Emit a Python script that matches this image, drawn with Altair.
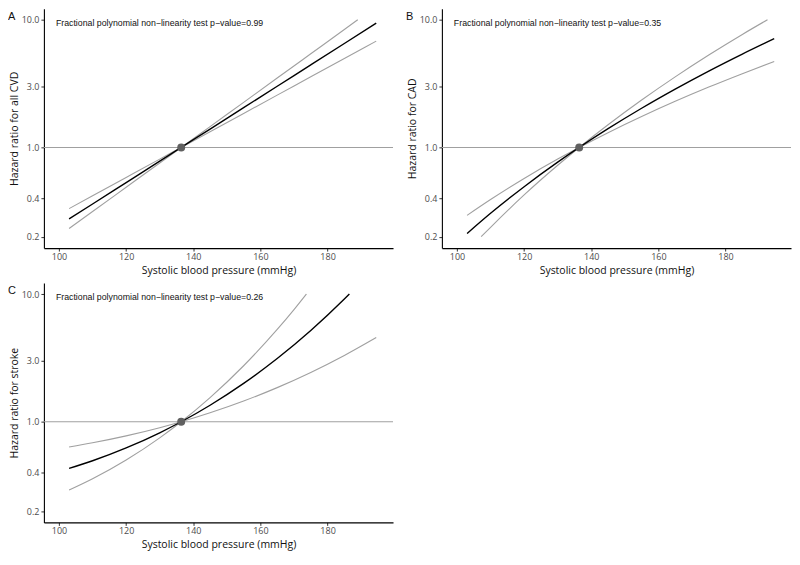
import altair as alt
import pandas as pd

REF_X = 136.4

# Panel A: all CVD
a_x_est = [103, 110, 120, 130, 136.4, 145, 155, 165, 175, 185, 194.5]
a_hr_est = [0.276, 0.361, 0.531, 0.781, 1.0, 1.393, 2.049, 3.013, 4.432, 6.518, 9.40]
a_x_hi = [103, 110, 120, 130, 136.4, 145, 155, 165, 175, 185, 189]
a_hr_hi = [0.232, 0.315, 0.488, 0.756, 1.0, 1.457, 2.256, 3.494, 5.412, 8.383, 10.0]
a_x_lo = [103, 110, 120, 130, 136.4, 145, 155, 165, 175, 185, 194.5]
a_hr_lo = [0.332, 0.418, 0.582, 0.810, 1.0, 1.328, 1.847, 2.569, 3.574, 4.971, 6.80]

# Panel B: CAD
b_x_est = [103, 110, 120, 130, 136.4, 145, 155, 165, 175, 185, 194.5]
b_hr_est = [0.212, 0.305, 0.493, 0.767, 1.0, 1.402, 2.027, 2.862, 3.964, 5.387, 7.11]
b_x_hi = [107.2, 110, 120, 130, 136.4, 145, 155, 165, 175, 185, 192.5]
b_hr_hi = [0.200, 0.237, 0.425, 0.725, 1.0, 1.505, 2.350, 3.570, 5.292, 7.674, 10.0]
b_x_lo = [103, 110, 120, 130, 136.4, 145, 155, 165, 175, 185, 194.5]
b_hr_lo = [0.294, 0.391, 0.572, 0.811, 1.0, 1.306, 1.747, 2.296, 2.969, 3.782, 4.71]

# Panel C: stroke
c_x_est = [103, 110, 120, 130, 136.4, 145, 155, 165, 175, 185, 186.5]
c_hr_est = [0.431, 0.495, 0.624, 0.820, 1.0, 1.347, 1.997, 3.125, 5.181, 9.134, 10.0]
c_x_hi = [103, 110, 120, 130, 136.4, 145, 155, 165, 170, 173.7]
c_hr_hi = [0.292, 0.358, 0.502, 0.748, 1.0, 1.545, 2.744, 5.279, 7.55, 10.0]
c_x_lo = [103, 110, 120, 130, 136.4, 145, 155, 165, 175, 185, 194.5]
c_hr_lo = [0.634, 0.684, 0.775, 0.898, 1.0, 1.175, 1.453, 1.850, 2.431, 3.302, 4.56]

x_ticks = [100, 120, 140, 160, 180]
y_ticks = [0.2, 0.4, 1.0, 3.0, 10.0]
x_title = "Systolic blood pressure (mmHg)"

W, H = 350, 240
GRAY = "#a0a0a0"
LABEL_FONT = "Open Sans"


def panel(letter, ytitle, pval, xe, he, xh, hh, xl, hl):
    xs = alt.Scale(domain=[95.5, 199.5], nice=False, zero=False)
    ys = alt.Scale(type="log", domain=[0.163, 12.2], nice=False)
    xax = alt.Axis(values=x_ticks, title=x_title, grid=False, labelPadding=1, titlePadding=4)
    yax = alt.Axis(values=y_ticks, format=".1f", title=ytitle, grid=False,
                   labelPadding=2, titleX=-24, titleY=H / 2)
    X = alt.X("x:Q", scale=xs, axis=xax)
    Y = alt.Y("hr:Q", scale=ys, axis=yax)

    ci = pd.concat([
        pd.DataFrame({"x": xh, "hr": hh, "s": "hi"}),
        pd.DataFrame({"x": xl, "hr": hl, "s": "lo"}),
    ])
    est = pd.DataFrame({"x": xe, "hr": he})

    hline = alt.Chart(pd.DataFrame({"hr": [1.0]})).mark_rule(
        color=GRAY, strokeWidth=1.1).encode(y=Y)
    ci_l = alt.Chart(ci).mark_line(color=GRAY, strokeWidth=1.1, interpolate="monotone").encode(
        x=X, y=Y, detail="s:N")
    est_l = alt.Chart(est).mark_line(color="black", strokeWidth=1.4, interpolate="monotone").encode(
        x=X, y=Y)
    pt = alt.Chart(pd.DataFrame({"x": [REF_X], "hr": [1.0]})).mark_circle(
        size=64, color="#606060", opacity=1).encode(x=X, y=Y)
    txt = alt.Chart(pd.DataFrame({"t": [pval]})).mark_text(
        align="left", baseline="middle", font="Liberation Sans", fontSize=8.8, color="#111"
    ).encode(x=alt.value(12), y=alt.value(14), text="t:N")
    let = alt.Chart(pd.DataFrame({"t": [letter]})).mark_text(
        align="left", baseline="top", font="Liberation Sans", fontSize=11, color="#111"
    ).encode(x=alt.value(-36), y=alt.value(2), text="t:N")
    return alt.layer(hline, ci_l, est_l, pt, txt, let).properties(width=W, height=H)


pA = panel("A", "Hazard ratio for all CVD",
           "Fractional polynomial non\u2212linearity test p\u2212value=0.99",
           a_x_est, a_hr_est, a_x_hi, a_hr_hi, a_x_lo, a_hr_lo)
pB = panel("B", "Hazard ratio for CAD",
           "Fractional polynomial non\u2212linearity test p\u2212value=0.35",
           b_x_est, b_hr_est, b_x_hi, b_hr_hi, b_x_lo, b_hr_lo)
pC = panel("C", "Hazard ratio for stroke",
           "Fractional polynomial non\u2212linearity test p\u2212value=0.26",
           c_x_est, c_hr_est, c_x_hi, c_hr_hi, c_x_lo, c_hr_lo)

chart = alt.vconcat(alt.hconcat(pA, pB, spacing=12), pC, spacing=7).properties(
    padding={"left": 0, "top": 0, "right": 0, "bottom": 0}
).configure_view(stroke=None).configure_axis(
    domainColor="black", domainWidth=1.1, tickColor="#333", tickSize=3, tickWidth=1,
    labelFont=LABEL_FONT, labelFontSize=9, labelColor="#4d4d4d",
    titleFont=LABEL_FONT, titleFontSize=10.5, titleFontWeight="normal", titleColor="#111",
)

chart.save("out.html", embed_options={"renderer": "svg", "actions": False})
